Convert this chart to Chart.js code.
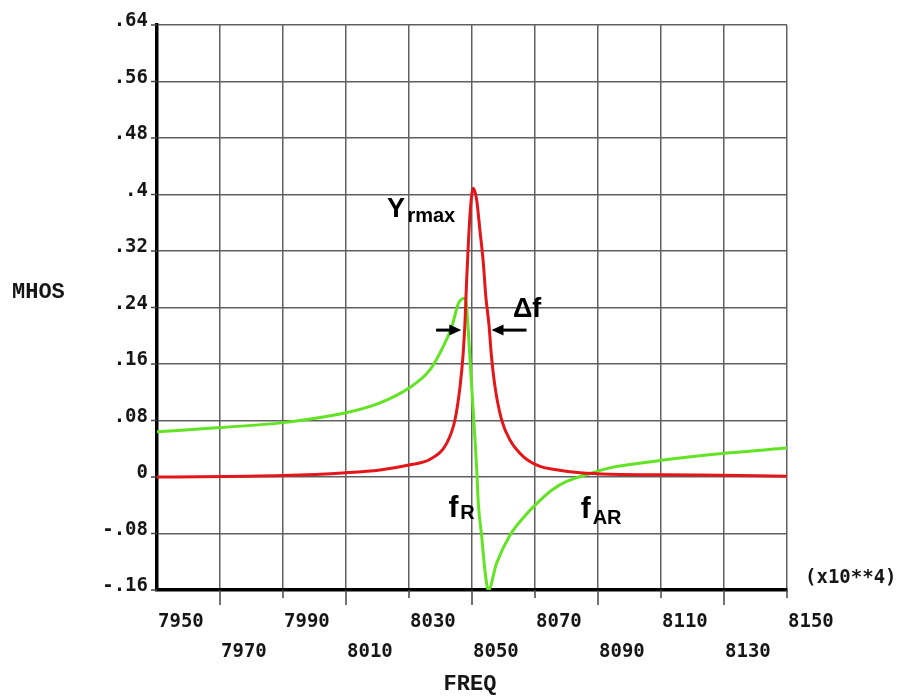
<!DOCTYPE html>
<html>
<head>
<meta charset="utf-8">
<title>MHOS vs FREQ</title>
<script src="https://cdn.jsdelivr.net/npm/chart.js@4.4.1/dist/chart.umd.min.js"></script>
<style>
  html, body { margin: 0; padding: 0; background: #fff; }
  #wrap { width: 900px; height: 699px; }
</style>
</head>
<body>
<div id="wrap"><canvas id="admChart" width="900" height="699"></canvas></div>
<script>
// axis ticks: frequency (x10**4) and admittance in MHOS
const freqTicks = [7950, 7970, 7990, 8010, 8030, 8050, 8070, 8090, 8110, 8130, 8150];
const mhosTicks = [-0.16, -0.08, 0, 0.08, 0.16, 0.24, 0.32, 0.4, 0.48, 0.56, 0.64];
const mhosLabels = ['-.16', '-.08', '0', '.08', '.16', '.24', '.32', '.4', '.48', '.56', '.64'];

// conductance (red)
const gFreq = [7950, 7990, 8010, 8020.8, 8030, 8036.7, 8042, 8044.6, 8046.2, 8047.2, 8047.8, 8048.3, 8048.8,
               8049.4, 8050.4, 8051.5, 8052.5, 8053.6, 8054.4, 8055.4, 8056.1, 8057.3, 8059.4, 8062.1,
               8066.3, 8071.6, 8075.7, 8084.3, 8093.8, 8122.4, 8150];
const gVal  = [0.0, 0.002, 0.006, 0.01, 0.017, 0.025, 0.048, 0.081, 0.128, 0.175, 0.222, 0.279, 0.326,
               0.374, 0.409, 0.392, 0.35, 0.303, 0.255, 0.215, 0.175, 0.128, 0.081, 0.052,
               0.029, 0.015, 0.011, 0.006, 0.004, 0.003, 0.001];

// susceptance (green)
const bFreq = [7950, 7970, 7990, 8010, 8020.8, 8030, 8036.7, 8040.9, 8043.6, 8045.7, 8047.8, 8048.3,
               8048.8, 8049.9, 8050.9, 8051.5, 8052, 8053.1, 8054.1, 8055.2, 8057.8, 8062.1, 8067.4,
               8071.6, 8075.5, 8080.2, 8087.5, 8094.8, 8105.6, 8116, 8131, 8150];
const bVal  = [0.064, 0.07, 0.077, 0.091, 0.105, 0.126, 0.152, 0.185, 0.213, 0.246, 0.253, 0.241,
               0.208, 0.128, 0.057, 0.01, -0.037, -0.085, -0.132, -0.16, -0.122, -0.082, -0.052,
               -0.033, -0.018, -0.006, 0.005, 0.014, 0.021, 0.027, 0.034, 0.041];

const toPts = (xs, ys) => xs.map((x, i) => ({ x: x, y: ys[i] }));

function arrow(ctx, x0, y0, x1, y1) {
  const dir = Math.sign(x1 - x0);
  ctx.beginPath();
  ctx.moveTo(x0, y0);
  ctx.lineTo(x1 - dir * 8, y1);
  ctx.stroke();
  ctx.beginPath();
  ctx.moveTo(x1, y1);
  ctx.lineTo(x1 - dir * 12, y1 - 5.5);
  ctx.lineTo(x1 - dir * 12, y1 + 5.5);
  ctx.closePath();
  ctx.fill();
}

// tick labels, axis titles and the resonance markers
const plotText = {
  id: 'plotText',
  afterDraw(chart) {
    const { ctx, chartArea: a, scales: { x, y } } = chart;
    ctx.save();
    ctx.fillStyle = '#161616';
    ctx.strokeStyle = '#444';
    ctx.lineWidth = 1.5;

    ctx.font = 'bold 19px "DejaVu Sans Mono"';
    ctx.textAlign = 'right';
    ctx.textBaseline = 'alphabetic';
    mhosTicks.forEach((v, i) => {
      const py = y.getPixelForValue(v);
      ctx.beginPath(); ctx.moveTo(a.left - 6, py); ctx.lineTo(a.left, py); ctx.stroke();
      ctx.fillText(mhosLabels[i], a.left - 9, py + 1);
    });

    ctx.textAlign = 'left';
    freqTicks.forEach((v, i) => {
      const px = x.getPixelForValue(v);
      if (i > 0) {
        ctx.beginPath(); ctx.moveTo(px, a.bottom); ctx.lineTo(px, a.bottom + (i % 2 ? 15 : 8)); ctx.stroke();
      }
      ctx.fillText(String(v), px + 1, i % 2 ? a.bottom + 67 : a.bottom + 37);
    });
    ctx.fillText('(x10**4)', a.right + 18, a.bottom - 7);

    ctx.font = 'bold 22px "Liberation Mono"';
    ctx.fillText('MHOS', 12, 298);
    ctx.textAlign = 'center';
    ctx.fillText('FREQ', 470, 690);

    // annotations
    ctx.fillStyle = '#000';
    ctx.strokeStyle = '#000';
    ctx.textAlign = 'left';
    ctx.font = 'bold 27px "Liberation Sans"';
    ctx.fillText('Y', x.getPixelForValue(8023), y.getPixelForValue(0.368));
    ctx.font = 'bold 20px "Liberation Sans"';
    ctx.fillText('rmax', x.getPixelForValue(8029.5), y.getPixelForValue(0.361));

    ctx.font = 'bold 27px "Liberation Sans"';
    ctx.fillText('\u0394f', x.getPixelForValue(8063), y.getPixelForValue(0.226));

    ctx.font = 'bold 30px "Liberation Sans"';
    ctx.fillText('f', x.getPixelForValue(8042.5), y.getPixelForValue(-0.057));
    ctx.fillText('f', x.getPixelForValue(8084.5), y.getPixelForValue(-0.058));
    ctx.font = 'bold 20px "Liberation Sans"';
    ctx.fillText('R', x.getPixelForValue(8046.3), y.getPixelForValue(-0.06));
    ctx.fillText('AR', x.getPixelForValue(8088.3), y.getPixelForValue(-0.066));

    ctx.lineWidth = 3;
    const ay = y.getPixelForValue(0.208);
    arrow(ctx, x.getPixelForValue(8038.6), ay, x.getPixelForValue(8046.6), ay);
    arrow(ctx, x.getPixelForValue(8067.3), ay, x.getPixelForValue(8056.2), ay);
    ctx.restore();
  }
};

const ctx = document.getElementById('admChart').getContext('2d');
new Chart(ctx, {
  type: 'line',
  data: {
    datasets: [
      {
        label: 'G',
        data: toPts(gFreq, gVal),
        borderColor: '#e4161a',
        borderWidth: 3,
        pointRadius: 0,
        cubicInterpolationMode: 'monotone',
        fill: false
      },
      {
        label: 'B',
        data: toPts(bFreq, bVal),
        borderColor: '#62e324',
        borderWidth: 3,
        pointRadius: 0,
        cubicInterpolationMode: 'monotone',
        fill: false
      }
    ]
  },
  options: {
    responsive: false,
    animation: false,
    devicePixelRatio: 1,
    layout: { padding: { left: 157, right: 113, top: 25, bottom: 109 } },
    plugins: { legend: { display: false }, tooltip: { enabled: false } },
    scales: {
      x: {
        type: 'linear',
        min: 7950,
        max: 8150,
        afterBuildTicks: s => { s.ticks = freqTicks.map(v => ({ value: v })); },
        ticks: { display: false },
        grid: { color: '#606060', lineWidth: 1.5, drawTicks: false },
        border: { display: true, color: '#000', width: 3.5 }
      },
      y: {
        type: 'linear',
        min: -0.16,
        max: 0.64,
        afterBuildTicks: s => { s.ticks = mhosTicks.map(v => ({ value: v })); },
        ticks: { display: false },
        grid: { color: '#606060', lineWidth: 1.5, drawTicks: false },
        border: { display: true, color: '#000', width: 3.5 }
      }
    }
  },
  plugins: [plotText]
});
</script>
</body>
</html>
